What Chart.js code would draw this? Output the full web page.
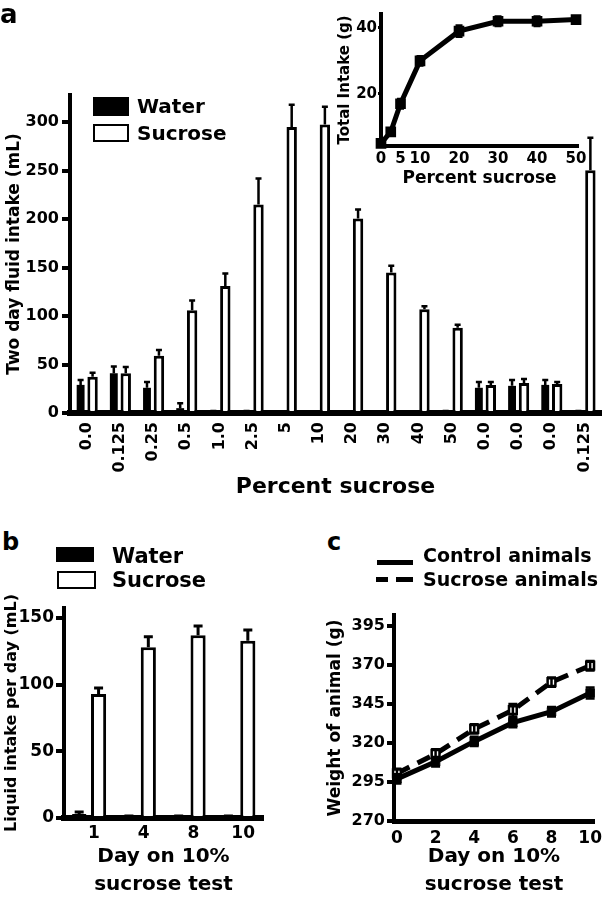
<!DOCTYPE html>
<html>
<head>
<meta charset="utf-8">
<script src="https://cdn.jsdelivr.net/npm/chart.js@4.4.1/dist/chart.umd.min.js"></script>
<style>
html,body{margin:0;padding:0;background:#fff;}
body{width:602px;height:899px;position:relative;overflow:hidden;font-family:"DejaVu Sans",sans-serif;font-weight:bold;color:#000;}
canvas{position:absolute;}
.t{position:absolute;white-space:nowrap;font-weight:bold;}
.box{position:absolute;box-sizing:border-box;}
</style>
</head>
<body>
<canvas id="cA" width="602" height="500" style="left:0;top:0;width:602px;height:500px"></canvas>
<canvas id="cIn" width="282" height="200" style="left:320px;top:0;width:282px;height:200px"></canvas>
<canvas id="cB" width="300" height="309" style="left:0;top:590px;width:300px;height:309px"></canvas>
<canvas id="cC" width="302" height="299" style="left:300px;top:600px;width:302px;height:299px"></canvas>

<div class="t" style="left:0;top:1px;font-size:26px;line-height:26px;">a</div>
<div class="box" style="left:93px;top:97px;width:36px;height:19px;background:#000;"></div>
<div class="t" style="left:137px;top:96px;font-size:20px;line-height:20px;">Water</div>
<div class="box" style="left:93px;top:124px;width:36px;height:18px;background:#fff;border:2.5px solid #000;"></div>
<div class="t" style="left:137px;top:123px;font-size:20px;line-height:20px;">Sucrose</div>

<div class="t" style="left:2px;top:530px;font-size:24px;line-height:24px;">b</div>
<div class="box" style="left:56px;top:547px;width:38px;height:15px;background:#000;"></div>
<div class="t" style="left:112px;top:546px;font-size:21px;line-height:21px;">Water</div>
<div class="box" style="left:57px;top:571px;width:39px;height:18px;background:#fff;border:2.5px solid #000;"></div>
<div class="t" style="left:112px;top:570px;font-size:21px;line-height:21px;">Sucrose</div>

<div class="t" style="left:327px;top:530px;font-size:24px;line-height:24px;">c</div>
<div class="box" style="left:377px;top:560px;width:36px;height:5px;background:#000;"></div>
<div class="t" style="left:423px;top:546px;font-size:19px;line-height:19px;">Control animals</div>
<div class="box" style="left:376px;top:577px;width:12px;height:5px;background:#000;"></div>
<div class="box" style="left:396px;top:577px;width:17px;height:5px;background:#000;"></div>
<div class="t" style="left:423px;top:570px;font-size:19px;line-height:19px;">Sucrose animals</div>

<script>
// ---------- Panel a: two-day fluid intake ----------
const concLabels = ['0.0','0.125','0.25','0.5','1.0','2.5','5','10','20','30','40','50','0.0','0.0','0.0','0.125'];
const waterTwoDay = [29, 41, 26, 5, 1.5, 1.5, 1, 1, 1, 1, 1, 1.5, 26, 28, 29, 1.5];
const waterTwoDayErr = [5, 7, 6, 5, 0.5, 0.5, 0.3, 0.3, 0.3, 0.3, 0.3, 0.5, 6, 6, 5, 0.5];
const sucroseTwoDay = [37.5, 41, 59, 106, 131, 215, 295, 297.5, 200.5, 145, 107, 88, 29, 31, 30, 250.5];
const sucroseTwoDayErr = [4, 6.5, 6, 10, 13, 27, 23, 18.5, 9.5, 7, 3, 3, 3, 4, 2, 33.5];
const twoDayTicks = [0, 50, 100, 150, 200, 250, 300];

// ---------- Inset: total intake (g) ----------
const insetConc = [0, 2.5, 5, 10, 20, 30, 40, 50];
const insetTotal = [5, 8.5, 17, 30, 39, 42, 42, 42.5];
const insetErr = [0.5, 1, 1.5, 1.5, 1.8, 1.5, 1.5, 1];
const insetXTicks = [0, 5, 10, 20, 30, 40, 50];
const insetYTicks = [20, 40];

// ---------- Panel b: liquid intake per day ----------
const dayLabels = ['1', '4', '8', '10'];
const waterDaily = [3, 1, 1, 1];
const waterDailyErr = [1.5, 0.5, 0.5, 0.5];
const sucroseDaily = [93, 128, 137, 133];
const sucroseDailyErr = [4.5, 8, 7, 8];
const dailyTicks = [0, 50, 100, 150];

// ---------- Panel c: body weight ----------
const weighDays = [0, 2, 4, 6, 8, 10];
const controlWeight = [297, 308, 321, 333, 340, 352];
const controlWeightErr = [3, 3, 3, 3, 3, 3.5];
const sucroseWeight = [300.5, 313, 329, 341, 359, 369.5];
const sucroseWeightErr = [3, 3, 3, 4, 3, 3];
const weightTicks = [270, 295, 320, 345, 370, 395];
const weighDayTicks = [0, 2, 4, 6, 8, 10];

Chart.defaults.font.family = '"DejaVu Sans", sans-serif';
Chart.defaults.font.weight = 'bold';
Chart.defaults.color = '#000';
Chart.defaults.animation = false;
Chart.defaults.events = [];
Chart.defaults.plugins.legend.display = false;
Chart.defaults.plugins.tooltip.enabled = false;

const errorBarPlugin = {
  id: 'errorBars',
  afterDatasetsDraw(chart) {
    const ctx = chart.ctx;
    chart.data.datasets.forEach((ds, di) => {
      if (!ds.errorBars) return;
      const meta = chart.getDatasetMeta(di);
      const yScale = chart.scales[meta.yAxisID];
      const st = ds.errorStyle;
      ctx.save();
      ctx.strokeStyle = '#000';
      ctx.lineWidth = st.width;
      ctx.lineCap = 'butt';
      meta.data.forEach((el, i) => {
        const raw = ds.data[i];
        const v = (typeof raw === 'object') ? raw.y : raw;
        const e = ds.errorBars[i];
        const top = yScale.getPixelForValue(v + e);
        const bot = st.symmetric ? yScale.getPixelForValue(v - e) : el.y;
        const h = st.cap / 2;
        ctx.beginPath();
        ctx.moveTo(el.x, bot); ctx.lineTo(el.x, top);
        ctx.moveTo(el.x - h, top); ctx.lineTo(el.x + h, top);
        if (st.symmetric) { ctx.moveTo(el.x - h, bot); ctx.lineTo(el.x + h, bot); }
        ctx.stroke();
      });
      ctx.restore();
    });
  }
};

function fixHeight(h) {
  return s => { s.height = h; s.paddingLeft = 0; s.paddingRight = 0; };
}

function yAxis(o) {
  return {
    type: 'linear',
    min: o.min, max: o.max,
    afterBuildTicks: s => { s.ticks = o.ticks.map(v => ({ value: v })); },
    afterFit: s => { s.width = o.width; },
    border: { display: true, color: '#000', width: o.bw },
    grid: { display: true, drawOnChartArea: false, drawTicks: true, tickLength: o.tl,
            color: '#000', lineWidth: o.tw, tickColor: '#000', tickWidth: o.tw },
    ticks: { font: { size: o.fs, weight: 'bold' }, padding: o.pad, color: '#000' },
    title: { display: true, text: o.title, color: '#000',
             font: { size: o.tfs, weight: 'bold' }, padding: { top: o.tpad, bottom: 0 } }
  };
}

// ---------- Panel a ----------
new Chart(document.getElementById('cA'), {
  type: 'bar',
  data: {
    labels: concLabels,
    datasets: [
      { label: 'Water', data: waterTwoDay, errorBars: waterTwoDayErr,
        backgroundColor: '#000', borderColor: '#000', borderWidth: 0,
        categoryPercentage: 0.72, barPercentage: 0.66, errorStyle: { width: 2.5, cap: 6 } },
      { label: 'Sucrose', data: sucroseTwoDay, errorBars: sucroseTwoDayErr,
        backgroundColor: '#fff', borderColor: '#000', borderWidth: 3,
        categoryPercentage: 0.72, barPercentage: 0.87, errorStyle: { width: 2.5, cap: 6 } }
    ]
  },
  options: {
    responsive: false,
    layout: { padding: { left: 0, right: 1, top: 95, bottom: 0 } },
    scales: {
      x: {
        z: 1,
        afterFit: fixHeight(87),
        border: { display: true, color: '#000', width: 6 },
        grid: { display: true, drawOnChartArea: false, drawTicks: false },
        ticks: { autoSkip: false, minRotation: 90, maxRotation: 90, padding: 9,
                 font: { size: 16, weight: 'bold' }, color: '#000' },
        title: { display: true, text: 'Percent sucrose', color: '#000',
                 font: { size: 22, weight: 'bold' }, padding: 0 }
      },
      y: yAxis({ min: 0, max: 328, ticks: twoDayTicks, width: 70, bw: 4, tl: 8, tw: 4,
                 fs: 16, pad: 3, title: 'Two day fluid intake (mL)', tfs: 17, tpad: 4 })
    }
  },
  plugins: [errorBarPlugin]
});

// ---------- Inset ----------
new Chart(document.getElementById('cIn'), {
  type: 'line',
  data: {
    datasets: [{
      label: 'Total intake', data: insetConc.map((c, i) => ({ x: c, y: insetTotal[i] })),
      errorBars: insetErr, errorStyle: { width: 2, cap: 7, symmetric: true },
      borderColor: '#000', borderWidth: 5, tension: 0, clip: false,
      pointStyle: 'rect', pointRadius: 4, pointBackgroundColor: '#000', pointBorderColor: '#000'
    }]
  },
  options: {
    responsive: false,
    layout: { padding: { left: 0, right: 24, top: 14, bottom: 0 } },
    scales: {
      x: {
        type: 'linear', min: 0, max: 50.5,
        afterBuildTicks: s => { s.ticks = insetXTicks.map(v => ({ value: v })); },
        afterFit: fixHeight(54),
        border: { display: true, color: '#000', width: 4 },
        grid: { display: true, drawOnChartArea: false, drawTicks: false },
        ticks: { padding: 4, font: { size: 15, weight: 'bold' }, color: '#000', maxRotation: 0 },
        title: { display: true, text: 'Percent sucrose', color: '#000',
                 font: { size: 17, weight: 'bold' }, padding: { top: 0, bottom: 11 } }
      },
      y: yAxis({ min: 4.2, max: 44.2, ticks: insetYTicks, width: 61, bw: 4, tl: 3, tw: 3,
                 fs: 15, pad: 1, title: 'Total Intake (g)', tfs: 15, tpad: 16 })
    }
  },
  plugins: [errorBarPlugin]
});

// ---------- Panel b ----------
new Chart(document.getElementById('cB'), {
  type: 'bar',
  data: {
    labels: dayLabels,
    datasets: [
      { label: 'Water', data: waterDaily, errorBars: waterDailyErr,
        backgroundColor: '#000', borderColor: '#000', borderWidth: 0,
        categoryPercentage: 0.78, barPercentage: 0.72, errorStyle: { width: 3, cap: 9 } },
      { label: 'Sucrose', data: sucroseDaily, errorBars: sucroseDailyErr,
        backgroundColor: '#fff', borderColor: '#000', borderWidth: 3,
        categoryPercentage: 0.78, barPercentage: 0.78, errorStyle: { width: 3, cap: 9 } }
    ]
  },
  options: {
    responsive: false,
    layout: { padding: { left: 0, right: 37, top: 18, bottom: 0 } },
    scales: {
      x: {
        z: 1,
        afterFit: fixHeight(81),
        border: { display: true, color: '#000', width: 6 },
        grid: { display: true, drawOnChartArea: false, drawTicks: false },
        ticks: { padding: 5, labelOffset: 5, maxRotation: 0, font: { size: 17, weight: 'bold' }, color: '#000' },
        title: { display: true, text: ['Day on 10%', 'sucrose test'], color: '#000',
                 font: { size: 20, weight: 'bold', lineHeight: 1.4 }, padding: 0 }
      },
      y: yAxis({ min: 0, max: 157.5, ticks: dailyTicks, width: 64, bw: 4, tl: 8, tw: 4,
                 fs: 17, pad: 2, title: 'Liquid intake per day (mL)', tfs: 16, tpad: 2 })
    }
  },
  plugins: [errorBarPlugin]
});

// ---------- Panel c ----------
new Chart(document.getElementById('cC'), {
  type: 'line',
  data: {
    datasets: [
      { label: 'Control animals', data: weighDays.map((d, i) => ({ x: d, y: controlWeight[i] })),
        errorBars: controlWeightErr, errorStyle: { width: 2.5, cap: 9, symmetric: true },
        borderColor: '#000', borderWidth: 5, tension: 0, clip: false,
        pointStyle: 'rect', pointRadius: 6, pointBackgroundColor: '#000', pointBorderColor: '#000', pointBorderWidth: 1 },
      { label: 'Sucrose animals', data: weighDays.map((d, i) => ({ x: d, y: sucroseWeight[i] })),
        errorBars: sucroseWeightErr, errorStyle: { width: 2.5, cap: 9, symmetric: true },
        borderColor: '#000', borderWidth: 5, borderDash: [14, 9], tension: 0, clip: false,
        pointStyle: 'rect', pointRadius: 5.5, pointBackgroundColor: '#fff', pointBorderColor: '#000', pointBorderWidth: 2.5 }
    ]
  },
  options: {
    responsive: false,
    layout: { padding: { left: 0, right: 0, top: 15, bottom: 0 } },
    scales: {
      x: {
        type: 'linear', min: -0.153, max: 10.2,
        afterBuildTicks: s => { s.ticks = weighDayTicks.map(v => ({ value: v })); },
        afterFit: fixHeight(78),
        border: { display: true, color: '#000', width: 5 },
        grid: { display: true, drawOnChartArea: false, drawTicks: false },
        ticks: { padding: 7, maxRotation: 0, font: { size: 17, weight: 'bold' }, color: '#000' },
        title: { display: true, text: ['Day on 10%', 'sucrose test'], color: '#000',
                 font: { size: 20, weight: 'bold', lineHeight: 1.4 }, padding: 0 }
      },
      y: yAxis({ min: 270, max: 402, ticks: weightTicks, width: 94, bw: 4, tl: 7, tw: 4,
                 fs: 16, pad: 2, title: 'Weight of animal (g)', tfs: 17, tpad: 25 })
    }
  },
  plugins: [errorBarPlugin]
});
</script>
</body>
</html>
